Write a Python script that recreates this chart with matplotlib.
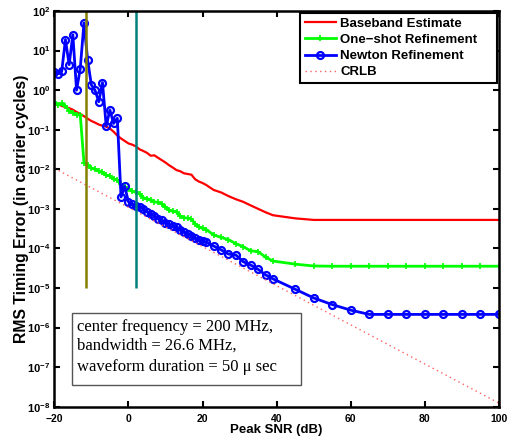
import matplotlib
matplotlib.use("Agg")
import matplotlib.pyplot as plt
from matplotlib.patches import Rectangle

plt.rcParams['font.family'] = ['Liberation Sans', 'DejaVu Sans']
plt.rcParams['mathtext.fontset'] = 'custom'
plt.rcParams['mathtext.rm'] = 'Liberation Sans:bold'
plt.rcParams['mathtext.bf'] = 'Liberation Sans:bold'
plt.rcParams['mathtext.it'] = 'Liberation Sans:bold'

# ---------------- data ----------------
snr_db = [-20, -19, -18, -17, -16, -15, -14, -13, -12, -11, -10, -9, -8, -7, -6, -5,
          -4, -3, -2, -1, 0, 1, 2, 3, 4, 5, 6, 7, 8, 9, 10, 11, 12, 13, 14, 15, 16,
          17, 18, 19, 20, 21, 23, 25, 27, 29, 31, 33, 35, 37, 39,
          45, 50, 55, 60, 65, 70, 75, 80, 85, 90, 95, 100]

baseband = [0.42, 0.44, 0.40, 0.37, 0.35, 0.32, 0.28, 0.25, 0.22, 0.19, 0.166, 0.151,
            0.135, 0.126, 0.120, 0.107, 0.089, 0.071, 0.060, 0.052, 0.045, 0.042,
            0.038, 0.032, 0.029, 0.026, 0.022, 0.0225, 0.0195, 0.0170, 0.0148, 0.0126,
            0.0110, 0.0095, 0.0089, 0.0079, 0.0076, 0.0073, 0.0056, 0.0049, 0.0045,
            0.0040, 0.0030, 0.0026, 0.0021, 0.00175, 0.00150, 0.00122, 0.00100,
            0.00082, 0.00069, 0.000575, 0.000525, 0.000525, 0.000525, 0.000525,
            0.000525, 0.000525, 0.000525, 0.000525, 0.000525, 0.000525, 0.000525]

oneshot = [0.51, 0.42, 0.46, 0.40, 0.30, 0.27, 0.24, 0.235, 0.0148, 0.0126, 0.0107,
           0.0100, 0.0089, 0.0083, 0.0071, 0.0069, 0.0056, 0.0054, 0.0042, 0.0035,
           0.0032, 0.0028, 0.0026, 0.0024, 0.0019, 0.00182, 0.00166, 0.00151, 0.00145,
           0.00132, 0.00112, 0.00091, 0.00087, 0.00083, 0.00066, 0.00060, 0.00058,
           0.00055, 0.00042, 0.00035, 0.00032, 0.00030, 0.00022, 0.00019, 0.000166,
           0.000132, 0.000110, 8.7e-5, 8.3e-5, 6.0e-5, 4.8e-5, 4.0e-5, 3.6e-5,
           3.55e-5, 3.55e-5, 3.55e-5, 3.55e-5, 3.55e-5, 3.55e-5, 3.55e-5, 3.55e-5,
           3.55e-5, 3.55e-5]

newton = [2.9, 2.6, 3.0, 19, 4.4, 25, 1.0, 3.5, 50, 5.7, 1.35, 0.98, 0.51, 1.55, 0.123,
          0.315, 0.144, 0.194, 2.0e-3, 3.7e-3, 1.5e-3, 1.3e-3, 1.17e-3, 1.12e-3, 1.0e-3,
          8.5e-4, 7.2e-4, 6.6e-4, 5.6e-4, 5.2e-4, 4.4e-4, 4.1e-4, 3.6e-4, 3.4e-4,
          3.0e-4, 2.65e-4, 2.3e-4, 2.05e-4, 1.85e-4, 1.6e-4, 1.5e-4, 1.45e-4, 1.15e-4,
          9.2e-5, 7.2e-5, 6.8e-5, 4.6e-5, 3.8e-5, 2.95e-5, 2.15e-5, 1.7e-5, 9.3e-6,
          5.6e-6, 3.8e-6, 2.75e-6, 2.15e-6, 2.15e-6, 2.15e-6, 2.15e-6, 2.15e-6,
          2.15e-6, 2.15e-6, 2.15e-6]

crlb_snr = [-20, 100]
crlb = [1.06e-2, 1.23e-8]

threshold_snr = [-11.5, 2.05]
threshold_span = [1e-5, 1e2]

labels = ['Baseband Estimate', 'One\u2212shot Refinement', 'Newton Refinement', 'CRLB']
xticks = [-20, 0, 20, 40, 60, 80, 100]
yexps = [-8, -7, -6, -5, -4, -3, -2, -1, 0, 1, 2]
note_lines = ['center frequency = 200 MHz,', 'bandwidth = 26.6 MHz,',
              'waveform duration = 50 \u03bc sec']

# ---------------- figure ----------------
fig = plt.figure(figsize=(5.11, 4.40), dpi=100)
ax = fig.add_axes([0.1063, 0.0757, 0.8702, 0.8993])
ax.set_yscale('log')

ax.plot(snr_db, baseband, color='#ff0000', lw=1.6, label=labels[0])
ax.plot(snr_db, oneshot, color='#00ff00', lw=2.0, marker='+', ms=4, mew=1.2,
        label=labels[1])
ax.plot(snr_db, newton, color='#0000ff', lw=2.0, marker='o', ms=5, mew=1.6,
        mfc='none', label=labels[2])
ax.plot(crlb_snr, crlb, color='#ff6060', lw=1.0, ls=(0, (1, 2.5)), label=labels[3])

ax.vlines(threshold_snr[0], threshold_span[0], threshold_span[1], color='#857f00', lw=1.8)
ax.vlines(threshold_snr[1], threshold_span[0], threshold_span[1], color='#00807f', lw=1.8)

ax.set_xlim(-20, 100)
ax.set_ylim(1e-8, 1e2)
ax.set_xticks(xticks)
ax.set_xticklabels([f'{v}' if v >= 0 else f'\u2212{abs(v)}' for v in xticks],
                   fontsize=7.5, fontweight='bold')
ax.set_yticks([10.0 ** e for e in yexps])
ax.set_yticklabels([rf'$10^{{{e}}}$' if e >= 0 else rf'$10^{{-{abs(e)}}}$' for e in yexps],
                   fontsize=8.0)
ax.minorticks_off()
ax.tick_params(direction='in', length=4, width=1.5, top=True, right=True)
ax.tick_params(axis='x', pad=5)
ax.tick_params(axis='y', pad=3)
for s in ax.spines.values():
    s.set_linewidth(1.8)

ax.set_xlabel('Peak SNR (dB)', fontsize=9.5, fontweight='bold', labelpad=0)
ax.set_ylabel('RMS Timing Error (in carrier cycles)', fontsize=11.3, fontweight='bold')
ax.yaxis.set_label_coords(-0.058, 0.5)

leg = ax.legend(loc='upper left', bbox_to_anchor=(0.5525, 0.995, 0.443, 0.0),
                mode='expand', prop={'weight': 'bold', 'size': 9.5},
                frameon=True, fancybox=False, edgecolor='black', framealpha=1,
                borderaxespad=0.0, handlelength=2.4, handletextpad=0.3,
                labelspacing=0.3, borderpad=0.35)
leg.get_frame().set_linewidth(1.5)

ax.add_patch(Rectangle((0.039, 0.055), 0.516, 0.181, transform=ax.transAxes,
                       facecolor='white', edgecolor='#555555', lw=1.0, zorder=5))
for yy, line in zip([0.192, 0.1433, 0.091], note_lines):
    ax.text(0.0504, yy, line, transform=ax.transAxes, va='baseline', ha='left',
            fontsize=12, family=['Liberation Serif', 'DejaVu Serif'], zorder=6)

fig.savefig('out.png', dpi=100)
